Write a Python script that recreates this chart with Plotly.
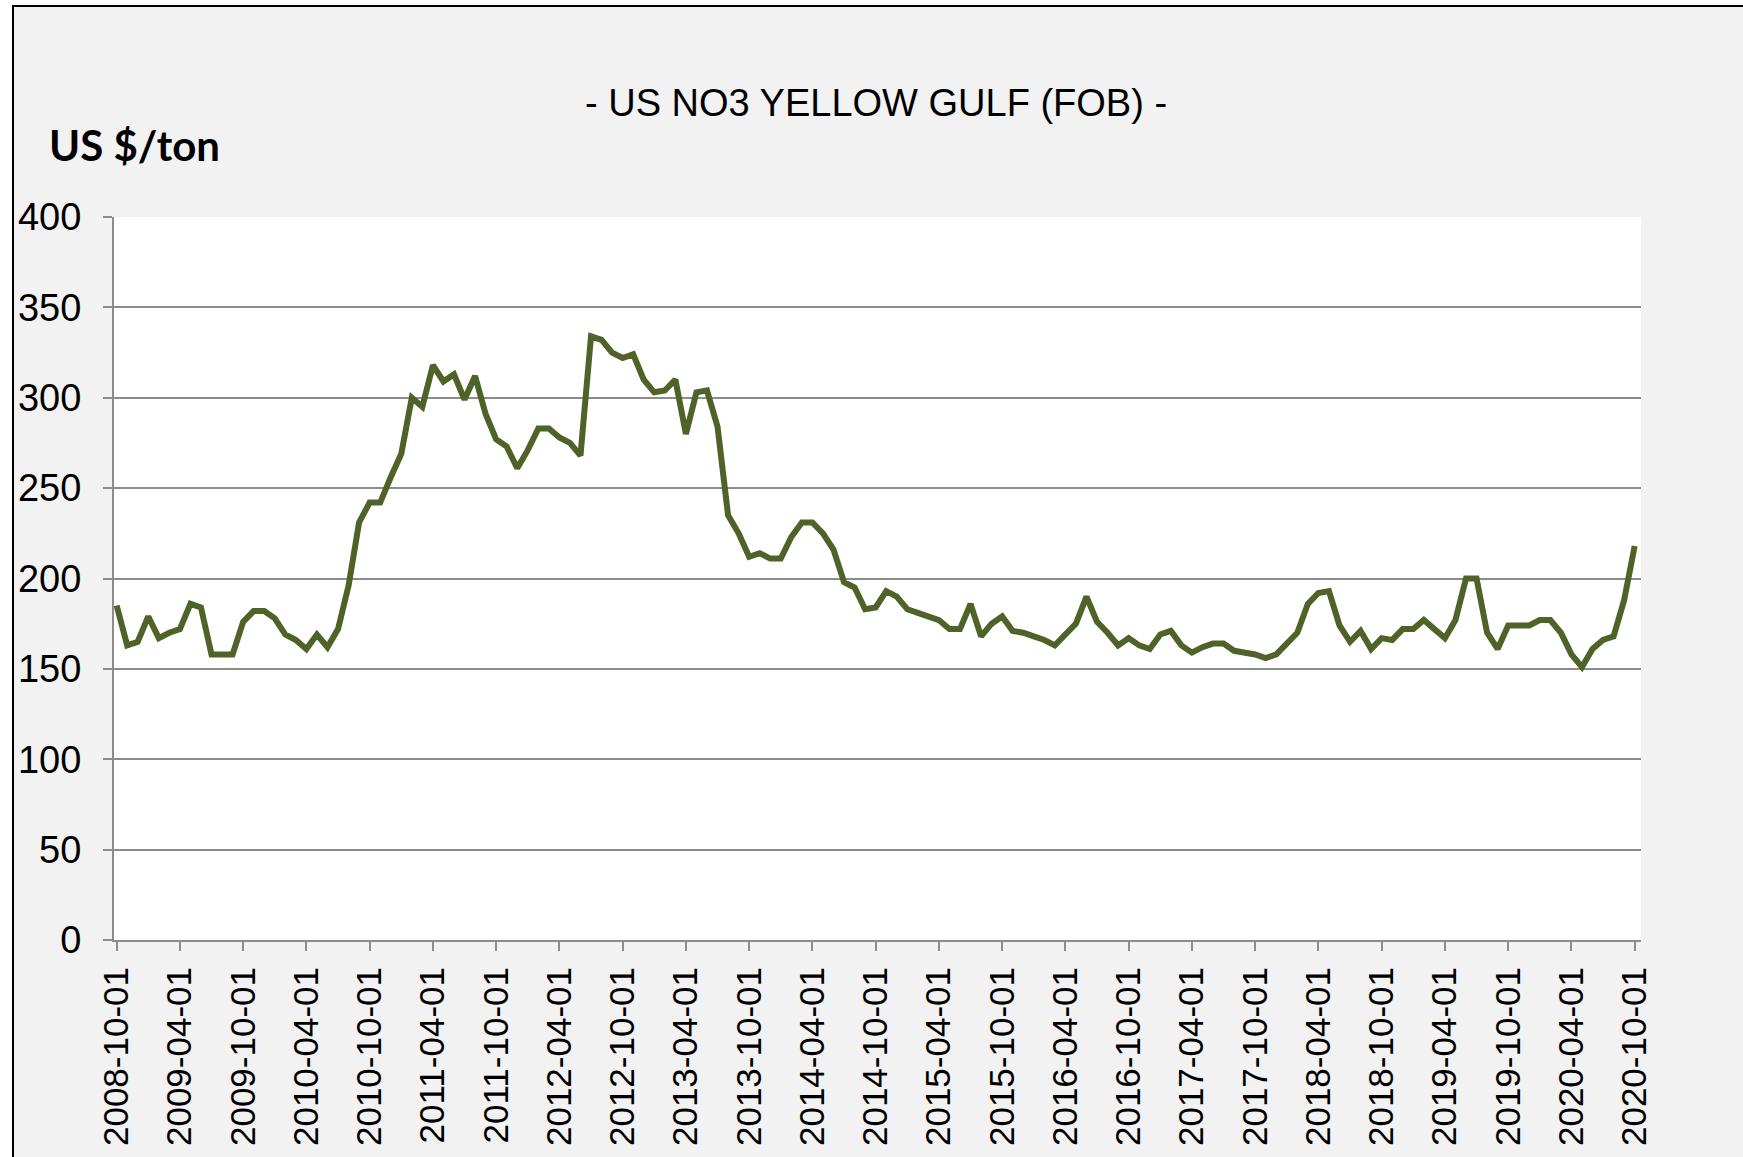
import plotly.graph_objects as go

start_year, start_month = 2008, 10
n_months = 145
dates = []
y_, m_ = start_year, start_month
for _ in range(n_months):
    dates.append(f"{y_:04d}-{m_:02d}-01")
    m_ += 1
    if m_ > 12:
        m_ = 1
        y_ += 1

prices = [
    185, 163, 165, 179, 167, 170, 172, 186, 184, 158, 158, 158,
    176, 182, 182, 178, 169, 166, 161, 169, 162, 172, 196, 231,
    242, 242, 256, 269, 300, 295, 318, 309, 313, 299, 312, 291,
    277, 273, 261, 271, 283, 283, 278, 275, 268, 334, 332, 325,
    322, 324, 310, 303, 304, 310, 280, 303, 304, 284, 235, 225,
    212, 214, 211, 211, 223, 231, 231, 225, 216, 198, 195, 183,
    184, 193, 190, 183, 181, 179, 177, 172, 172, 186, 168, 175,
    179, 171, 170, 168, 166, 163, 169, 175, 190, 176, 170, 163,
    167, 163, 161, 169, 171, 163, 159, 162, 164, 164, 160, 159,
    158, 156, 158, 164, 170, 186, 192, 193, 174, 165, 171, 161,
    167, 166, 172, 172, 177, 172, 167, 177, 200, 200, 170, 161,
    174, 174, 174, 177, 177, 170, 158, 151, 161, 166, 168, 188,
    218,
]

tick_labels = dates[::6]
y_ticks = [0, 50, 100, 150, 200, 250, 300, 350, 400]

W, H = 1743, 1157
L, R, T, B = 114, 102, 217, 217
pw, ph = W - L - R, H - T - B


def px_x(x):
    return (x - L) / pw


def px_y(y):
    return (H - B - y) / ph


fig = go.Figure()
fig.add_trace(go.Scatter(
    x=dates, y=prices, mode="lines",
    line=dict(color="#4F6228", width=6),
    hoverinfo="skip", showlegend=False,
))

grid = "#8C8C8C"
fig.update_layout(
    width=W, height=H,
    margin=dict(l=L, r=R, t=T, b=B, autoexpand=False),
    paper_bgcolor="white",
    plot_bgcolor="white",
    showlegend=False,
    xaxis=dict(
        type="category",
        range=[-0.25, 144.6],
        tickmode="array",
        tickvals=tick_labels,
        ticktext=tick_labels,
        tickangle=-90,
        ticks="outside", ticklen=9, tickwidth=2, tickcolor=grid,
        showgrid=False,
        showline=True, linecolor=grid, linewidth=2,
        tickfont=dict(family="Liberation Sans, Arial", size=35, color="black"),
        ticklabelstandoff=2,
        automargin=False,
        zeroline=False,
    ),
    yaxis=dict(
        range=[0, 400],
        tickmode="array",
        tickvals=y_ticks,
        ticks="outside", ticklen=9, tickwidth=2, tickcolor=grid,
        showgrid=True, gridcolor=grid, gridwidth=2,
        showline=True, linecolor=grid, linewidth=2,
        zeroline=False,
        tickfont=dict(family="Liberation Sans, Arial", size=38, color="black"),
        ticklabelstandoff=14,
        automargin=False,
    ),
    shapes=[
        dict(type="rect", xref="paper", yref="paper",
             x0=px_x(13), x1=px_x(W + 20), y0=px_y(H + 20), y1=px_y(6),
             fillcolor="#F2F2F2", line=dict(color="black", width=2), layer="below"),
        dict(type="rect", xref="paper", yref="paper",
             x0=0, x1=1, y0=0, y1=1,
             fillcolor="white", line=dict(width=0), layer="below"),
    ],
    annotations=[
        dict(text="- US NO3 YELLOW GULF (FOB) -", xref="paper", yref="paper",
             x=px_x(876), y=px_y(103), xanchor="center", yanchor="middle",
             showarrow=False,
             font=dict(family="Liberation Sans, Arial", size=38, color="black")),
        dict(text="<b>US $/ton</b>", xref="paper", yref="paper",
             x=px_x(47), y=px_y(145), xanchor="left", yanchor="middle",
             showarrow=False,
             font=dict(family="Lato", size=42, color="black")),
    ],
)

fig.write_html("out.html", config={"displayModeBar": False},
               post_script="document.body.style.margin='0px';")
